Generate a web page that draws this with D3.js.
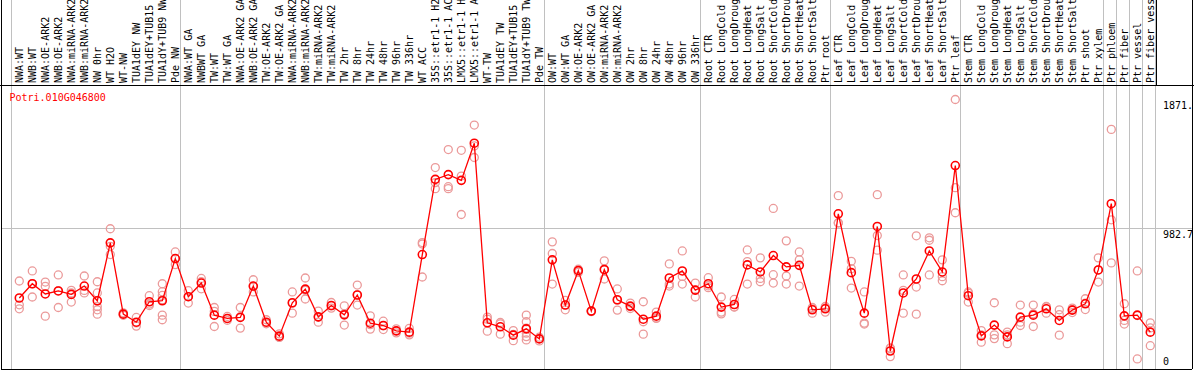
<!DOCTYPE html>
<html>
<head>
<meta charset="utf-8">
<title>Potri.010G046800</title>
<style>
  body { margin: 0; background: #fff; }
  text { font-family: "DejaVu Sans Mono", monospace; font-size: 10px; }
</style>
</head>
<body>
<svg width="1194" height="370"></svg>
<script src="https://d3js.org/d3.v7.min.js"></script>
<script>
// sample names (header)
var categories = [
  "NWA:WT","NWB:WT","NWA:OE-ARK2","NWB:OE-ARK2","NWA:miRNA-ARK2","NWB:miRNA-ARK2","NW 0hr","WT H2O","WT-NW",
  "TUA1dEY NW","TUA1dEY+TUB15","TUA1dY+TUB9 NW","Pde NW",
  "NWA:WT GA","NWBWT GA","TW:WT","TW:WT GA","NWA:OE-ARK2 GA","NWB:OE-ARK2 GA","TW:OE-ARK2","TW:OE-ARK2 GA",
  "NWA:miRNA-ARK2","NWB:miRNA-ARK2","TW:miRNA-ARK2","TW:miRNA-ARK2",
  "TW 2hr","TW 8hr","TW 24hr","TW 48hr","TW 96hr","TW 336hr","WT ACC",
  "35S::etr1-1 H2O","35S::etr1-1 ACC","LMX5::etr1-1 H2O","LMX5::etr1-1 ACC",
  "WT-TW","TUA1dEY TW","TUA1dEY+TUB15","TUA1dY+TUB9 TW","Pde TW",
  "OW:WT","OW:WT GA","OW:OE-ARK2","OW:OE-ARK2 GA","OW:miRNA-ARK2","OW:miRNA-ARK2",
  "OW 2hr","OW 8hr","OW 24hr","OW 48hr","OW 96hr","OW 336hr",
  "Root CTR","Root LongCold","Root LongDrought","Root LongHeat","Root LongSalt",
  "Root ShortCold","Root ShortDrought","Root ShortHeat","Root ShortSalt","Ptr root",
  "Leaf CTR","Leaf LongCold","Leaf LongDrought","Leaf LongHeat","Leaf LongSalt",
  "Leaf ShortCold","Leaf ShortDrought","Leaf ShortHeat","Leaf ShortSalt","Ptr leaf",
  "Stem CTR","Stem LongCold","Stem LongDrought","Stem LongHeat","Stem LongSalt",
  "Stem ShortCold","Stem ShortDrought","Stem ShortHeat","Stem ShortSalt","Ptr shoot",
  "Ptr xylem","Ptr phloem","Ptr fiber","Ptr vessel","Ptr fiber vessel"
];

// mean expression per sample
var means = [
  493,592,521,542,518,576,474,876,381,325,467,474,767,
  502,597,374,351,358,576,325,228,460,555,362,441,376,514,318,302,265,256,795,
  1317,1350,1310,1568,321,293,235,279,209,
  758,444,683,402,690,481,437,346,367,632,681,548,
  592,430,448,723,674,788,709,720,411,418,
  1078,669,388,990,125,528,625,820,674,1413,
  509,230,305,223,360,374,418,337,409,453,688,
  1148,369,374,256
];

// replicate values per sample
var replicates = [
  [611,446,418],[681,500,592],[604,574,367],[653,427,544],[546,528,465],[646,546,528],
  [606,528,434,411,381],[974,852,795],[390,373,381],[358,298,320],[509,451,441],
  [592,537,511,481,374,342],[813,725,767],
  [544,458,502],[629,606,557],[427,295,400],[365,351,338],[427,284,363],[620,535,573],
  [342,319,314],[244,221,219],[535,388,457],[632,486,547],[402,325,359],[462,423,438],
  [439,305,384],[583,444,515],[369,277,308],[332,274,300],[279,265,251],[249,237,282],
  [878,639,868],[1399,1294,1252],[1524,1266,1252],[1519,1340,1073],[1694,1549,1469],
  [360,346,263],[323,242,314],[267,197,241],[374,328,284,249,225,202],[221,195,211],
  [883,802,590],[476,411,445],[685,671,693],[405,398,403],[751,625,694],[556,409,478],
  [458,420,433],[467,328,242],[395,351,355],[730,590,576],[820,643,590],[597,500,547],
  [634,565,577],[500,395,383],[483,430,431],[827,746,590],[772,629,606],[1115,655,597],
  [890,646,590],[813,758,576],[427,388,418],[425,395,434],
  [1204,1016,1014],[748,562,697],[535,319,312],[1211,927,825],[146,86,143],[653,546,388],
  [925,569,381],[911,894,653],[758,641,613],[1871.8,1259,1085],
  [535,465,527],[267,186,237],[460,237,211],[256,176,237],[444,325,302],[444,295,383],
  [434,388,432],[411,378,235],[423,392,412],[488,413,458],[772,604,688],
  [1664,1036,737],[453,337,312],[681,70,371],[321,162,285]
];

// group separators (index of first sample in each group, last = end)
var separators = [0,13,41,53,63,73,84,85,86,87,88];

var yMax = 1871.8 * 1.05;
var yTicks = [1871.8, yMax / 2, 0];
var yTickLabels = ["1871.", "982.7", "0"];
var geneName = "Potri.010G046800";

var svg = d3.select("svg");
var headerH = 85, bottom = 369, rightEdge = 1192, headerRight = 1156.5;

var x = d3.scaleLinear().domain([0, categories.length - 1]).range([19.3, 1150.3]);
var y = d3.scaleLinear().domain([0, yMax]).range([bottom, 86]);

// gray group lines
svg.selectAll("line.sep")
  .data(separators)
  .enter().append("line")
  .attr("class", "sep")
  .attr("x1", function(d) { return Math.round(x(d - 0.66)) + 0.5; })
  .attr("x2", function(d) { return Math.round(x(d - 0.66)) + 0.5; })
  .attr("y1", 0).attr("y2", bottom)
  .attr("stroke", "#c0c0c0");

// middle gridline
svg.append("line")
  .attr("x1", 1).attr("x2", rightEdge)
  .attr("y1", Math.round(y(yTicks[1])) + 0.5).attr("y2", Math.round(y(yTicks[1])) + 0.5)
  .attr("stroke", "#c0c0c0");

// frame
svg.append("line").attr("x1", 0).attr("x2", 1194).attr("y1", headerH + 0.5).attr("y2", headerH + 0.5).attr("stroke", "#000");
svg.append("line").attr("x1", 1.5).attr("x2", 1.5).attr("y1", 0).attr("y2", bottom).attr("stroke", "#000");
svg.append("line").attr("x1", 1).attr("x2", rightEdge).attr("y1", bottom + 0.5).attr("y2", bottom + 0.5).attr("stroke", "#000");
svg.append("line").attr("x1", rightEdge + 0.5).attr("x2", rightEdge + 0.5).attr("y1", 0).attr("y2", bottom).attr("stroke", "#000");
svg.append("line").attr("x1", headerRight).attr("x2", headerRight).attr("y1", 0).attr("y2", headerH).attr("stroke", "#000");

// header labels
svg.append("g").selectAll("text")
  .data(categories)
  .enter().append("text")
  .attr("transform", function(d, i) { return "translate(" + (x(i) + 3.7) + ",83) rotate(-90)"; })
  .attr("fill", "#000")
  .text(function(d) { return d; });

// gene name
svg.append("text")
  .attr("x", 9.5).attr("y", 100.5)
  .attr("fill", "#ff0000")
  .text(geneName);

// y labels
svg.selectAll("text.ylab")
  .data(yTicks)
  .enter().append("text")
  .attr("class", "ylab")
  .attr("x", 1163)
  .attr("y", function(d, i) { return i < 2 ? y(d) + 10 : y(d) - 4; })
  .attr("fill", "#000")
  .text(function(d, i) { return yTickLabels[i]; });

// replicate points
var repPts = [];
replicates.forEach(function(r, i) {
  r.forEach(function(v) { repPts.push({i: i, v: v}); });
});
svg.append("g").selectAll("circle")
  .data(repPts)
  .enter().append("circle")
  .attr("cx", function(d) { return x(d.i); })
  .attr("cy", function(d) { return y(d.v); })
  .attr("r", 4)
  .attr("fill", "none")
  .attr("stroke", "#eb9a9a")
  .attr("stroke-width", 1.3);

// mean line
var line = d3.line()
  .x(function(d, i) { return x(i); })
  .y(function(d) { return y(d); });
svg.append("path")
  .datum(means)
  .attr("d", line)
  .attr("fill", "none")
  .attr("stroke", "#ff0000")
  .attr("stroke-width", 1.3);

// mean points
svg.append("g").selectAll("circle")
  .data(means)
  .enter().append("circle")
  .attr("cx", function(d, i) { return x(i); })
  .attr("cy", function(d) { return y(d); })
  .attr("r", 4)
  .attr("fill", "none")
  .attr("stroke", "#ff0000")
  .attr("stroke-width", 1.6);
</script>
</body>
</html>
